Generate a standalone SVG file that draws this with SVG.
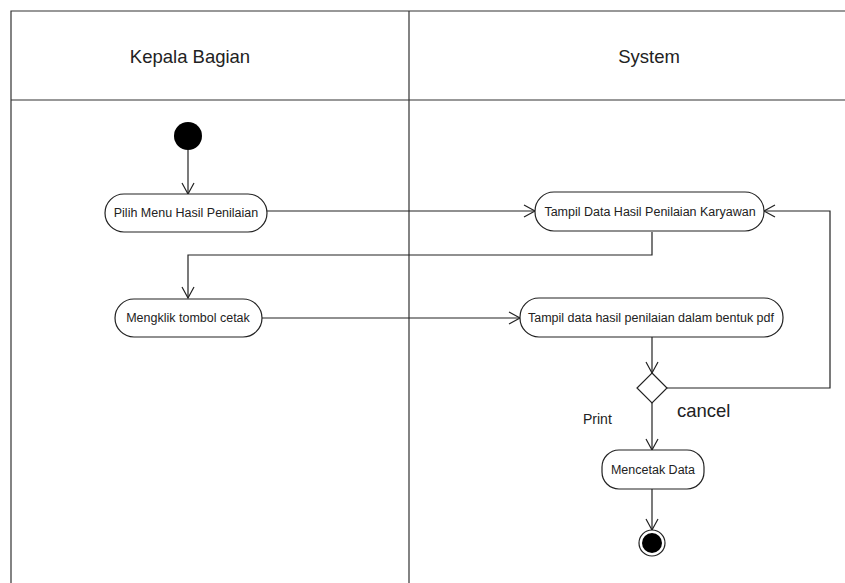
<svg xmlns="http://www.w3.org/2000/svg" width="845" height="583" viewBox="0 0 845 583">
<style>
.lane{fill:none;stroke:#333;stroke-width:1.2}
.act{fill:#fff;stroke:#222;stroke-width:1.2}
.lbl{font-family:"Liberation Sans",Arial,sans-serif;font-size:12.5px;fill:#222;text-anchor:middle;dominant-baseline:central}
.hdr{font-family:"Liberation Sans",Arial,sans-serif;font-size:18.5px;fill:#222;text-anchor:middle}
.edge{fill:none;stroke:#222;stroke-width:1.2}
</style>
<defs>
<marker id="arr" markerWidth="14" markerHeight="14" refX="12" refY="7" orient="auto" markerUnits="userSpaceOnUse">
<path d="M1,1 L12,7 L1,13" fill="none" stroke="#222" stroke-width="1.2"/>
</marker>
</defs>
<rect width="845" height="583" fill="#fff"/>
<g id="swimlanes">
<path class="lane" d="M11,583 V11 H845 M11,100 H845 M409,11 V583"/>
<text class="hdr" x="190" y="63">Kepala Bagian</text>
<text class="hdr" x="649" y="63">System</text>
</g>
<g id="connectors">
<path class="edge" d="M188,150 V194" marker-end="url(#arr)"/>
<path class="edge" d="M267,211 H535" marker-end="url(#arr)"/>
<path class="edge" d="M652,232 V255 H188 V298" marker-end="url(#arr)"/>
<path class="edge" d="M262,318 H520" marker-end="url(#arr)"/>
<path class="edge" d="M652,337 V373" marker-end="url(#arr)"/>
<path class="edge" d="M667,388 H830 V211 H764" marker-end="url(#arr)"/>
<path class="edge" d="M652,403 V450" marker-end="url(#arr)"/>
<path class="edge" d="M652,489 V530" marker-end="url(#arr)"/>
</g>
<g id="start"><circle cx="188" cy="136" r="14" fill="#000"/></g>
<g id="pilih">
<rect class="act" x="105" y="194" width="162" height="38" rx="19"/>
<text class="lbl" x="186" y="213">Pilih Menu Hasil Penilaian</text>
</g>
<g id="tampil-data">
<rect class="act" x="535" y="192" width="229" height="39" rx="19"/>
<text class="lbl" x="650" y="211.5">Tampil Data Hasil Penilaian Karyawan</text>
</g>
<g id="mengklik">
<rect class="act" x="115" y="299" width="147" height="38" rx="19"/>
<text class="lbl" x="188" y="318">Mengklik tombol cetak</text>
</g>
<g id="tampil-pdf">
<rect class="act" x="520" y="298" width="263" height="39" rx="19"/>
<text class="lbl" x="651" y="317.5">Tampil data hasil penilaian dalam bentuk pdf</text>
</g>
<g id="decision">
<polygon points="652,373 667,388 652,403 637,388" fill="#fff" stroke="#222" stroke-width="1.2"/>
<text x="583" y="424" font-family="'Liberation Sans',Arial,sans-serif" font-size="14" fill="#222">Print</text>
<text x="677" y="417" font-family="'Liberation Sans',Arial,sans-serif" font-size="18.5" fill="#222">cancel</text>
</g>
<g id="mencetak">
<rect class="act" x="602" y="450" width="102" height="39" rx="17"/>
<text class="lbl" x="653" y="469.5">Mencetak Data</text>
</g>
<g id="end">
<circle cx="652" cy="543" r="13" fill="#fff" stroke="#222" stroke-width="1.2"/>
<circle cx="652" cy="543" r="10" fill="#000"/>
</g>
</svg>
